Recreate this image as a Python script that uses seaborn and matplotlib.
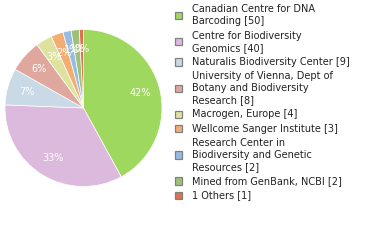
import matplotlib
matplotlib.use("Agg")
import matplotlib.pyplot as plt
from matplotlib.patches import Rectangle
import seaborn as sns

labels = [
    "Canadian Centre for DNA\nBarcoding [50]",
    "Centre for Biodiversity\nGenomics [40]",
    "Naturalis Biodiversity Center [9]",
    "University of Vienna, Dept of\nBotany and Biodiversity\nResearch [8]",
    "Macrogen, Europe [4]",
    "Wellcome Sanger Institute [3]",
    "Research Center in\nBiodiversity and Genetic\nResources [2]",
    "Mined from GenBank, NCBI [2]",
    "1 Others [1]",
]
values = [50, 40, 9, 8, 4, 3, 2, 2, 1]
colors = ["#9fd85e", "#dcbade", "#c9d9e5", "#e0a79f", "#dde39f",
          "#f2ae72", "#98bbe2", "#9cc27a", "#e0704f"]

sns.set_style("white")
plt.rcParams['font.family'] = ['DejaVu Sans']
palette = sns.color_palette(colors)

W, H = 380, 240
fig = plt.figure(figsize=(W / 100, H / 100), dpi=100)

cx, cy, r = 83.5, 108, 78.5
ax = fig.add_axes([(cx - r) / W, (H - cy - r) / H, 2 * r / W, 2 * r / H])
total = sum(values)
wedges, texts, autotexts = ax.pie(
    values, colors=palette, startangle=90, counterclock=False,
    autopct=lambda p: f"{int(p)}%", pctdistance=0.75,
    wedgeprops=dict(edgecolor="white", linewidth=0.5),
    textprops=dict(color="white", fontsize=7),
)
ax.set_xlim(-1.0, 1.0)
ax.set_ylim(-1.0, 1.0)
ax.set_aspect("equal")
ax.axis("off")

lax = fig.add_axes([0, 0, 1, 1])
lax.set_xlim(0, W)
lax.set_ylim(H, 0)
lax.axis("off")

line_h = 12.2
gap = 1.9
y = 9.3
for lab, col in zip(labels, palette):
    lines = lab.split("\n")
    n = len(lines)
    center = y + (n - 1) * line_h / 2
    lax.add_patch(Rectangle((174.5, center - 3.7), 7.4, 7.4, facecolor=col,
                            edgecolor="#808080", linewidth=0.9))
    for i, ln in enumerate(lines):
        lax.text(192.5, y + i * line_h, ln, fontsize=7, va="center", ha="left",
                 color="#222222")
    y += n * line_h + gap

fig.savefig("out.png", dpi=100)
